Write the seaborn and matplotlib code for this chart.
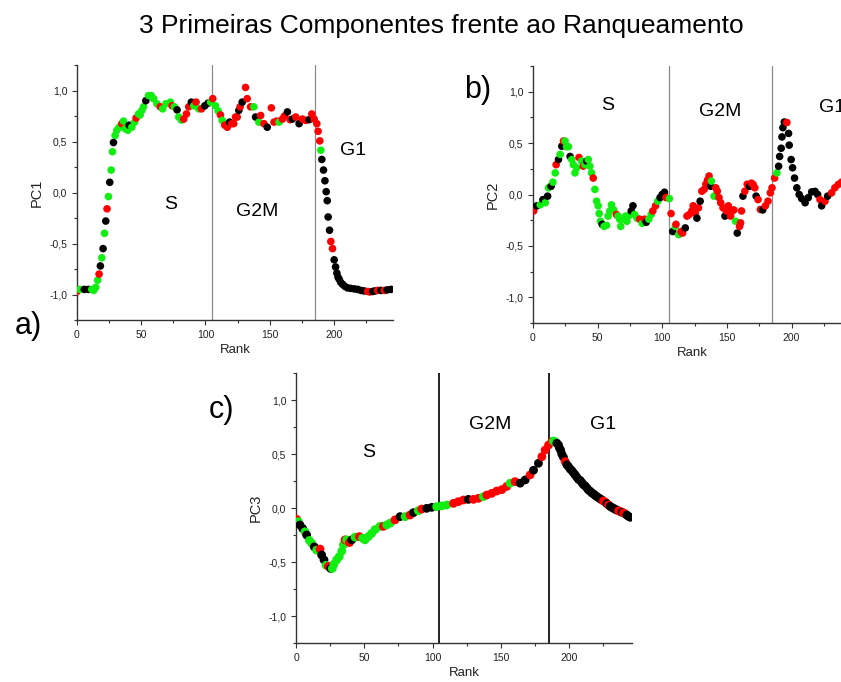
import numpy as np
import pandas as pd
import matplotlib
matplotlib.use("Agg")
import matplotlib.pyplot as plt
from matplotlib.ticker import MultipleLocator, FuncFormatter
import seaborn as sns

sns.set_style("ticks")
plt.rcParams["font.family"] = ["Liberation Sans", "DejaVu Sans"]
plt.rcParams["text.color"] = "#000000"

# phase codes: k = G1, r = G2M, g = S
fase_nome = {"k": "G1", "r": "G2M", "g": "S"}
cores = {"G1": "#000000", "G2M": "#ff0000", "S": "#11ee11"}

# ---- PC1 vs rank ----
rank_a = [0, 2.3, 5.7, 8.9, 11.5, 13, 14.6, 16.1, 17.2, 18.2,
          19.3, 20.3, 21.4, 22.4, 23.4, 24.5, 25.5, 26.6, 27.6, 28.4,
          29.7, 31, 32.8, 34.9, 36.2, 37.5, 39.6, 40.6, 42.7, 44.8,
          46, 47.9, 49.2, 50.5, 51.8, 53.6, 55.7, 57.8, 59.6, 62.2,
          64.8, 66.7, 69.3, 72.7, 74, 75.8, 77.9, 79.2, 81.3, 83.1,
          85.2, 87, 89, 90.9, 92.7, 94.8, 96.9, 99.5, 102, 104,
          105.7, 107.8, 109.9, 111.7, 113, 115, 117, 118.8, 120.5, 122,
          123.4, 124.7, 126, 127, 128.6, 131.2, 132.5, 135.1, 137.7, 139,
          141.6, 143, 145.5, 148.1, 151.3, 153.4, 155.5, 157.3, 159.9, 161.5,
          163.8, 165.9, 167.7, 170.3, 172.9, 175.5, 178.1, 180.7, 182.8, 184.6,
          186.7, 187.7, 189, 189.8, 190.6, 191.9, 193, 194, 194.8, 195.5,
          196.6, 197.6, 198.9, 200.2, 201.3, 202.3, 203.2, 204.1, 205.3, 206.7,
          208.5, 210.6, 213, 215.9, 218.5, 221, 223.5, 226.3, 228, 230.2,
          232, 234, 236.5, 239.3, 241.5, 244.5]
pc1 = [-0.97, -0.95, -0.95, -0.95, -0.95, -0.96, -0.93, -0.86, -0.80, -0.72,
       -0.64, -0.55, -0.40, -0.28, -0.16, -0.04, 0.10, 0.22, 0.40, 0.49,
       0.56, 0.61, 0.64, 0.675, 0.70, 0.625, 0.61, 0.66, 0.64, 0.69,
       0.73, 0.77, 0.76, 0.805, 0.84, 0.90, 0.95, 0.95, 0.92, 0.87,
       0.84, 0.82, 0.87, 0.886, 0.85, 0.84, 0.81, 0.74, 0.71, 0.72,
       0.77, 0.84, 0.886, 0.85, 0.886, 0.82, 0.82, 0.85, 0.876, 0.886,
       0.92, 0.85, 0.80, 0.76, 0.707, 0.66, 0.64, 0.69, 0.675, 0.675,
       0.74, 0.74, 0.805, 0.84, 0.886, 1.03, 0.92, 0.84, 0.84, 0.74,
       0.69, 0.755, 0.675, 0.64, 0.83, 0.69, 0.70, 0.69, 0.72, 0.75,
       0.79, 0.714, 0.72, 0.74, 0.675, 0.72, 0.707, 0.714, 0.77, 0.72,
       0.675, 0.60, 0.506, 0.415, 0.324, 0.22, 0.115, 0.008, -0.08, -0.24,
       -0.37, -0.48, -0.55, -0.66, -0.73, -0.79, -0.83, -0.85, -0.88, -0.90,
       -0.92, -0.935, -0.94, -0.945, -0.95, -0.96, -0.965, -0.97, -0.975, -0.97,
       -0.965, -0.96, -0.96, -0.96, -0.955, -0.95]
fase_a = ("rgkkggggrk gkgkrgkggk gggrgggkgg rggggkgggg rgggrgkggr "
          "rrkgrgrkkg rggrgrrkrr rrkrkrrrgk grrkrrrgrr krkrkrrkrr "
          "rrrgkkkkkk krrkkkkkkk kkkkkkkrrk krkrkk")

# ---- PC2 vs rank ----
rank_b = [0.5, 3, 5.6, 7.7, 9.5, 11.3, 12, 14, 15.4, 17.2,
          17.9, 19.7, 21, 22.3, 23.6, 24.8, 26, 27.4, 28.7, 30,
          31.2, 32.5, 33.8, 35.6, 37.6, 38.9, 40.2, 41.5, 42.8, 44,
          45.3, 46.6, 47.9, 49.2, 50.4, 51.2, 52.2, 53.5, 55, 56.9,
          58.1, 59.4, 60.7, 62.5, 64.5, 65.8, 67, 67.9, 69.7, 71.7,
          72.7, 74.3, 76, 77.3, 78.6, 80.4, 82.5, 84.5, 86.3, 87.6,
          89.6, 91.4, 92.7, 94.8, 96.5, 98.3, 99.9, 101.7, 102.9, 105.5,
          106.8, 108.1, 110.1, 110.6, 112.7, 114.5, 115.7, 117.8, 119.1, 120.9,
          122.9, 123.9, 125.5, 126.8, 128, 129.3, 130.6, 132.4, 133.7, 135,
          136.2, 137.5, 138, 140.1, 141.4, 142.6, 143.9, 145.2, 147, 148.5,
          149.6, 151.1, 152.9, 154.2, 155.4, 156.7, 158, 159.8, 160.6, 161.3,
          162.4, 163.9, 165.7, 167.5, 169, 170.3, 171.6, 172.6, 174.1, 175.9,
          177.7, 179.8, 181.8, 183.6, 184.9, 186.9, 188.7, 190, 190.8, 192,
          192.6, 193.3, 194.4, 196.4, 197.7, 198.2, 199.7, 200.8, 202.3, 204.1,
          205.9, 207.9, 210.5, 213, 215.6, 218.2, 220.2, 222, 223.3, 225.9,
          227.9, 231, 233.5, 236.1, 238.7, 241]
pc2 = [-0.16, -0.11, -0.10, -0.05, -0.08, -0.016, 0.065, 0.08, 0.12, 0.21,
       0.29, 0.34, 0.39, 0.47, 0.52, 0.52, 0.465, 0.465, 0.37, 0.34,
       0.29, 0.21, 0.26, 0.36, 0.325, 0.276, 0.29, 0.325, 0.34, 0.276,
       0.21, 0.16, 0.05, -0.065, -0.11, -0.185, -0.26, -0.29, -0.31, -0.30,
       -0.21, -0.16, -0.10, -0.15, -0.195, -0.21, -0.24, -0.31, -0.24, -0.21,
       -0.26, -0.205, -0.16, -0.11, -0.195, -0.23, -0.24, -0.28, -0.24, -0.27,
       -0.24, -0.195, -0.16, -0.11, -0.065, -0.03, 0.0, 0.022, -0.03, -0.04,
       -0.185, -0.36, -0.31, -0.29, -0.39, -0.36, -0.375, -0.325, -0.21, -0.195,
       -0.16, -0.11, -0.18, -0.23, -0.13, -0.065, 0.032, 0.05, 0.10, 0.14,
       0.18, 0.08, 0.13, -0.016, 0.065, 0.032, -0.03, -0.08, -0.13, -0.21,
       -0.16, -0.11, -0.21, -0.16, -0.15, -0.26, -0.375, -0.31, -0.276, -0.16,
       -0.016, 0.032, 0.10, 0.08, 0.11, 0.097, 0.065, -0.016, -0.05, -0.146,
       -0.15, -0.11, -0.065, 0.016, 0.065, 0.16, 0.21, 0.275, 0.37, 0.45,
       0.56, 0.65, 0.705, 0.70, 0.594, 0.48, 0.34, 0.26, 0.16, 0.065,
       0.0, -0.04, -0.08, -0.03, 0.025, 0.03, 0.0, -0.05, -0.11, -0.065,
       -0.016, 0.016, 0.065, 0.097, 0.12, 0.14]
fase_b = ("rkgkgkgkgg rkgkrgggkg gggrgrgkgg grgggggkgg ggggrggggg "
          "ggkkggrgrk ggrrgkkkrg rkgrgrrkrr rrrkrkrrrr rkggrrrrrk "
          "rrrrrgkrrr krrkrrrkrr krrrrrgkkk kkkrkkkkkk kkkkkkkrkr krrrrr")

# ---- PC3 vs rank ----
rank_c = [0.5, 1.7, 2.9, 4.9, 6.6, 7.8, 9.8, 11.5, 13.4, 15.1,
          17.6, 18.8, 20.5, 22, 23.7, 25.4, 26.6, 27.8, 29.8, 31.7,
          33.5, 34.7, 35.9, 37.1, 39.1, 40.8, 43.2, 46.4, 48.8, 50.5,
          53, 55.4, 57.9, 61.5, 64, 66.4, 68.9, 72.5, 76.2, 79.9,
          83.5, 86, 89.6, 92, 95.7, 99.4, 103, 106.7, 110.4, 115.3,
          118.9, 122.6, 126.2, 129.9, 133.6, 137.2, 139.7, 143.3, 147, 150.7,
          154.3, 156.8, 160.4, 164.1, 167.8, 171.4, 173.9, 177.5, 180, 182.4,
          184.9, 187.3, 188.5, 189.7, 191, 192.2, 192.9, 193.8, 194.6, 195.8,
          197.1, 198.3, 199.5, 200.8, 202, 203.2, 204.4, 205.6, 206.8, 208.1,
          209.3, 210.5, 211.7, 213, 214.1, 215.4, 216.6, 217.8, 219, 220.3,
          221.5, 222.7, 224, 225.1, 226.4, 227.6, 228.8, 230, 231.3, 232.5,
          233.7, 235, 236.2, 237.4, 238.6, 239.8, 241, 242.2, 243.4, 244.7]
pc3 = [-0.105, -0.127, -0.157, -0.19, -0.22, -0.25, -0.30, -0.327, -0.36, -0.39,
       -0.38, -0.435, -0.48, -0.53, -0.54, -0.56, -0.56, -0.52, -0.48, -0.45,
       -0.40, -0.34, -0.295, -0.295, -0.32, -0.295, -0.27, -0.265, -0.28, -0.295,
       -0.265, -0.235, -0.20, -0.17, -0.17, -0.157, -0.14, -0.11, -0.08, -0.08,
       -0.065, -0.043, -0.025, -0.01, -0.003, 0.006, 0.012, 0.02, 0.028, 0.043,
       0.059, 0.074, 0.08, 0.08, 0.09, 0.105, 0.12, 0.136, 0.157, 0.17,
       0.20, 0.23, 0.244, 0.23, 0.26, 0.306, 0.35, 0.414, 0.475, 0.537,
       0.583, 0.614, 0.62, 0.614, 0.60, 0.583, 0.555, 0.535, 0.50, 0.47,
       0.43, 0.40, 0.383, 0.36, 0.345, 0.325, 0.306, 0.285, 0.265, 0.255,
       0.235, 0.215, 0.205, 0.185, 0.167, 0.155, 0.14, 0.13, 0.117, 0.105,
       0.095, 0.085, 0.075, 0.065, 0.055, 0.04, 0.028, 0.015, 0.005, -0.003,
       -0.012, -0.02, -0.026, -0.033, -0.04, -0.045, -0.055, -0.065, -0.077, -0.086]
fase_c = ("rgkkgkggkg rkkgrkgggg ggrgrkgrgg ggggrggrkg rkgrkkgggr "
          "rrkrrgrrrr rgrkkrkkrr rrggkkkkkk rkkkkkkkkk kkkkkkkkkk "
          "kkkrrkrkkk kkrrkrrkkk")

tick_fmt = FuncFormatter(lambda v, p: f"{v:.1f}".replace(".", ","))


def painel(ax, rank, pc, fase, nome_y, cor_linha, lw_linha, textos, tam):
    codigos = fase.replace(" ", "")
    df = pd.DataFrame({"Rank": rank, nome_y: pc,
                       "fase": [fase_nome[c] for c in codigos]})
    sns.scatterplot(data=df, x="Rank", y=nome_y, hue="fase", palette=cores,
                    s=tam, linewidth=0, legend=False, ax=ax, zorder=3)
    for xv in (105, 185):
        ax.axvline(xv, color=cor_linha, lw=lw_linha, zorder=2)
    ax.set_xlim(0, 246)
    ax.set_ylim(-1.25, 1.25)
    ax.xaxis.set_major_locator(MultipleLocator(50))
    ax.xaxis.set_minor_locator(MultipleLocator(25))
    ax.yaxis.set_major_locator(MultipleLocator(0.5))
    ax.yaxis.set_minor_locator(MultipleLocator(0.25))
    ax.yaxis.set_major_formatter(tick_fmt)
    ax.tick_params(which="major", direction="out", length=3.5, width=0.8,
                   labelsize=7.5, colors="#333333", labelcolor="#222222")
    ax.tick_params(which="minor", direction="out", length=2, width=0.8, colors="#333333")
    for lado in ("top", "right"):
        ax.spines[lado].set_visible(False)
    for lado in ("left", "bottom"):
        ax.spines[lado].set_color("#333333")
        ax.spines[lado].set_linewidth(1.0)
    ax.set_xlabel("Rank", fontsize=9.5, labelpad=3, color="#222222")
    ax.set_ylabel(nome_y, fontsize=10.5, labelpad=4, color="#222222")
    for (tx, ty, s) in textos:
        ax.text(tx, ty, s, fontsize=14, ha="center", va="center", color="#000000")


W, H = 841, 682
fig = plt.figure(figsize=(W / 100, H / 100), dpi=100)


def caixa(esq, topo, larg, alt):
    return [esq / W, 1 - (topo + alt) / H, larg / W, alt / H]


ax_a = fig.add_axes(caixa(77, 65, 316, 255))
ax_b = fig.add_axes(caixa(533, 66, 318, 257))
ax_c = fig.add_axes(caixa(296, 373, 336, 270))

painel(ax_a, rank_a, pc1, fase_a, "PC1", "#888888", 0.9,
       [(73, -0.12, "S"), (140, -0.19, "G2M"), (215, 0.41, "G1")], 30)
painel(ax_b, rank_b, pc2, fase_b, "PC2", "#888888", 0.9,
       [(58, 0.87, "S"), (145, 0.81, "G2M"), (231, 0.85, "G1")], 30)
painel(ax_c, rank_c, pc3, fase_c, "PC3", "#111111", 1.3,
       [(53, 0.51, "S"), (142, 0.77, "G2M"), (225, 0.77, "G1")], 40)

fig.text(441 / W, 1 - 26 / H, "3 Primeiras Componentes frente ao Ranqueamento",
         fontsize=19, ha="center", va="center", color="#000000")
fig.text(28 / W, 1 - 326 / H, "a)", fontsize=22, ha="center", va="center", color="#000000")
fig.text(478 / W, 1 - 90 / H, "b)", fontsize=22, ha="center", va="center", color="#000000")
fig.text(222 / W, 1 - 410 / H, "c)", fontsize=22, ha="center", va="center", color="#000000")

fig.savefig("out.png", dpi=100)
